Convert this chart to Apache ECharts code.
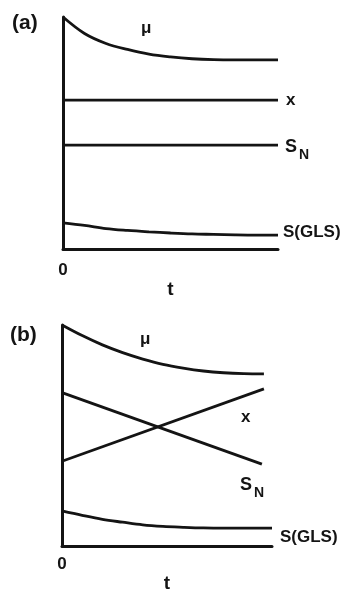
<!DOCTYPE html>
<html>
<head>
<meta charset="utf-8">
<script src="https://cdn.jsdelivr.net/npm/echarts@6/dist/echarts.min.js"></script>
<style>
  html, body { margin: 0; padding: 0; background: #ffffff; }
  #chart { width: 350px; height: 594px; }
</style>
</head>
<body>
<div id="chart"></div>
<script>
// Time steps shared by the curved series
const steps = [0, 1, 2, 3, 4, 5, 6, 7, 8, 9, 10];

// Panel (a): constant x and S_N, decaying μ and S(GLS)
const muA = [100, 92.9, 88.6, 86.0, 84.0, 82.8, 82.0, 81.6, 81.5, 81.5, 81.5];
const glsA = [11.3, 10.2, 8.8, 8.0, 7.4, 6.9, 6.5, 6.3, 6.1, 6.0, 6.0];
const lineEndsA = [0, 10];
const xA = [64.2, 64.2];
const snA = [44.8, 44.8];

// Panel (b): x rising, S_N falling
const muB = [100, 95.2, 91.0, 87.5, 84.6, 82.2, 80.5, 79.2, 78.4, 78.0, 77.9];
const xEndsB = [0, 10];
const xB = [38.4, 71.1];
const snEndsB = [0, 9.9];
const snB = [69.4, 37.1];
const glsStepsB = [0, 1, 2, 3, 4, 5, 6, 7, 8, 9, 10.4];
const glsB = [15.9, 13.9, 12.1, 10.8, 9.6, 8.9, 8.5, 8.2, 8.1, 8.1, 8.1];

const FONT = '"Liberation Sans", Arial, Helvetica, sans-serif';
const INK = '#141414';

function pairs(xs, ys) { return xs.map((x, i) => [x, ys[i]]); }

function lineSeries(grid, data, smooth) {
  return {
    type: 'line',
    xAxisIndex: grid, yAxisIndex: grid,
    data: data,
    smooth: smooth ? 0.35 : false,
    showSymbol: false,
    silent: true,
    lineStyle: { color: INK, width: 2.8 },
    animation: false
  };
}

function xAxis(grid, max, margin, gap) {
  return {
    type: 'value', gridIndex: grid, min: 0, max: max, interval: max,
    name: 't', nameLocation: 'middle', nameGap: gap,
    nameTextStyle: { fontFamily: FONT, fontWeight: 'bold', fontSize: 19, color: INK },
    axisLine: { show: true, onZero: false, lineStyle: { color: INK, width: 3 } },
    axisTick: { show: false },
    splitLine: { show: false },
    axisLabel: {
      margin: margin, showMaxLabel: false,
      fontFamily: FONT, fontWeight: 'bold', fontSize: 17, color: INK,
      formatter: v => (v === 0 ? '0' : '')
    }
  };
}

function yAxis(grid) {
  return {
    type: 'value', gridIndex: grid, min: 0, max: 100,
    axisLine: { show: true, onZero: false, lineStyle: { color: INK, width: 3 } },
    axisTick: { show: false },
    splitLine: { show: false },
    axisLabel: { show: false }
  };
}

function txt(s, x, y, size, bold) {
  return {
    type: 'text', x: x, y: y, silent: true,
    style: {
      text: s, fill: INK, fontFamily: FONT, fontSize: size,
      fontWeight: bold ? 'bold' : 'normal',
      align: 'left', verticalAlign: 'middle'
    }
  };
}

const chart = echarts.init(document.getElementById('chart'), null, { renderer: 'canvas' });
chart.setOption({
  backgroundColor: '#ffffff',
  animation: false,
  grid: [
    { left: 63, top: 17, width: 215, height: 232 },
    { left: 62, top: 325, width: 210, height: 232 }
  ],
  xAxis: [xAxis(0, 10, 13, 22), xAxis(1, 10.4, 10, 21)],
  yAxis: [yAxis(0), yAxis(1)],
  series: [
    lineSeries(0, pairs(steps, muA), true),
    lineSeries(0, pairs(lineEndsA, xA), false),
    lineSeries(0, pairs(lineEndsA, snA), false),
    lineSeries(0, pairs(steps, glsA), true),
    lineSeries(1, pairs(steps, muB), true),
    lineSeries(1, pairs(xEndsB, xB), false),
    lineSeries(1, pairs(snEndsB, snB), false),
    lineSeries(1, pairs(glsStepsB, glsB), true)
  ],
  graphic: [
    // panel (a)
    txt('(a)', 12, 23, 21, true),
    txt('μ', 141, 28, 17, true),
    txt('x', 286, 100, 17, true),
    txt('S', 285, 147, 18, true),
    txt('N', 299, 155, 14, true),
    txt('S(GLS)', 283, 232, 17, true),
    // panel (b)
    txt('(b)', 10, 335, 21, true),
    txt('μ', 140, 339, 17, true),
    txt('x', 241, 417, 17, true),
    txt('S', 240, 485, 18, true),
    txt('N', 254, 493, 14, true),
    txt('S(GLS)', 280, 537, 17, true)
  ]
});
</script>
</body>
</html>
